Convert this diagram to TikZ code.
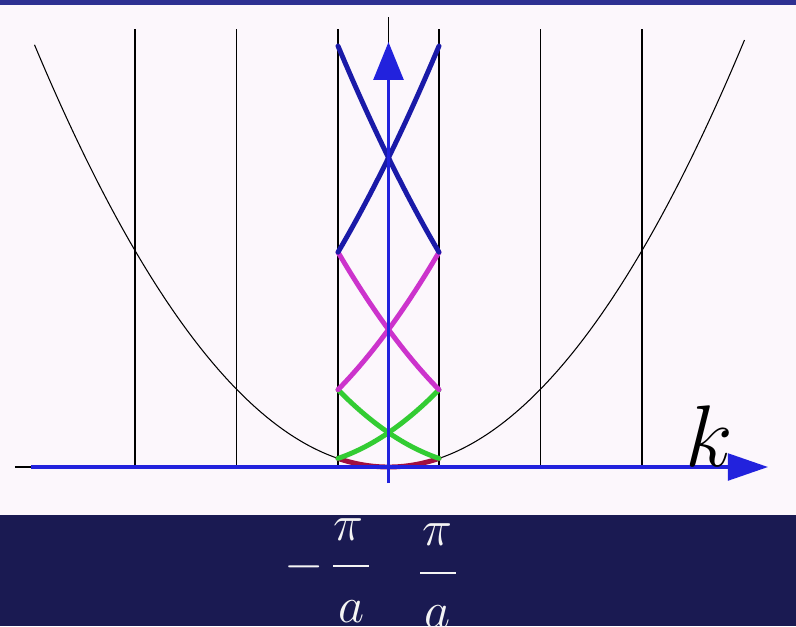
\documentclass[tikz,border=0pt]{standalone}
\usetikzlibrary{arrows.meta}
\definecolor{topband}{HTML}{2E3192}
\definecolor{paper}{HTML}{FCF7FC}
\definecolor{darkband}{HTML}{1A1A52}
\definecolor{axisblue}{HTML}{2222DD}
\definecolor{bandone}{HTML}{A01040}
\definecolor{bandtwo}{HTML}{33CC33}
\definecolor{bandthree}{HTML}{CC33CC}
\definecolor{bandfour}{HTML}{1A1AA8}
\definecolor{labelwhite}{HTML}{F4F4F4}
\tikzset{
  thinline/.style={black, line width=0.3pt},
  axisline/.style={axisblue, line width=0.9pt},
  bandline/.style={line width=1.4pt, line cap=round},
  lbl/.style={text=labelwhite, inner sep=0pt, font=\fontsize{15}{18}\selectfont},
  fracbar/.style={labelwhite, line width=0.7pt}
}
\begin{document}
\begin{tikzpicture}[x=0.01cm, y=-0.01cm]
\useasboundingbox (0,0) rectangle (796,626);
% backgrounds
\fill[paper] (0,0) rectangle (796,515);
\fill[topband] (0,0) rectangle (796,5);
\fill[darkband] (0,515) rectangle (796,626);
% key coordinates
\coordinate (O) at (388.5,467);
% zone lines
\foreach \dx in {-253.5,-152,-50.5,50.5,152,253.5}
  \draw[thinline] ({388.5+\dx},29) -- ({388.5+\dx},467);
\draw[thinline] (388.5,17) -- (O);
\draw[thinline] (15,467) -- (740,467);
% free-electron parabola
\draw[thinline] plot[domain=-354:356, samples=120, smooth]
  ({388.5+\x},{467-(0.05805*\x)*(0.05805*\x)});
% reduced-zone bands
\draw[bandline, bandone] plot[domain=-50.5:50.5, samples=30, smooth]
  ({388.5+\x},{467-(0.05805*\x)*(0.05805*\x)});
\foreach \g/\c in {101/bandtwo, 202/bandthree, 303/bandfour} {
  \draw[bandline, \c] plot[domain=-50.5:50.5, samples=30, smooth]
    ({388.5+\x},{467-(0.05805*(\x+\g))*(0.05805*(\x+\g))});
  \draw[bandline, \c] plot[domain=-50.5:50.5, samples=30, smooth]
    ({388.5+\x},{467-(0.05805*(\x-\g))*(0.05805*(\x-\g))});
}
% axes
\coordinate (kstart) at (31,467);
\coordinate (kend) at (768,467);
\coordinate (Ebot) at (388.5,483);
\coordinate (Etop) at (388.5,42);
\draw[axisline, -{Triangle[length=11.4pt, width=7.6pt]}] (kstart) -- (kend);
\draw[axisline, -{Triangle[length=10.8pt, width=8.5pt]}] (Ebot) -- (Etop);
% k label
\node[inner sep=0pt, font=\fontsize{23}{27}\selectfont] (klab) at (709,436) {$k$};
% -pi/a
\node[lbl] (minus) at (304,567) {$-$};
\node[lbl] (pione) at (348,530) {$\pi$};
\node[lbl] (aone) at (352,612) {$a$};
\draw[fracbar] (333,566) -- (369,566);
% pi/a
\node[lbl] (pitwo) at (437,535) {$\pi$};
\node[lbl] (atwo) at (438,617) {$a$};
\draw[fracbar] (420,573) -- (456,573);
\end{tikzpicture}
\end{document}
